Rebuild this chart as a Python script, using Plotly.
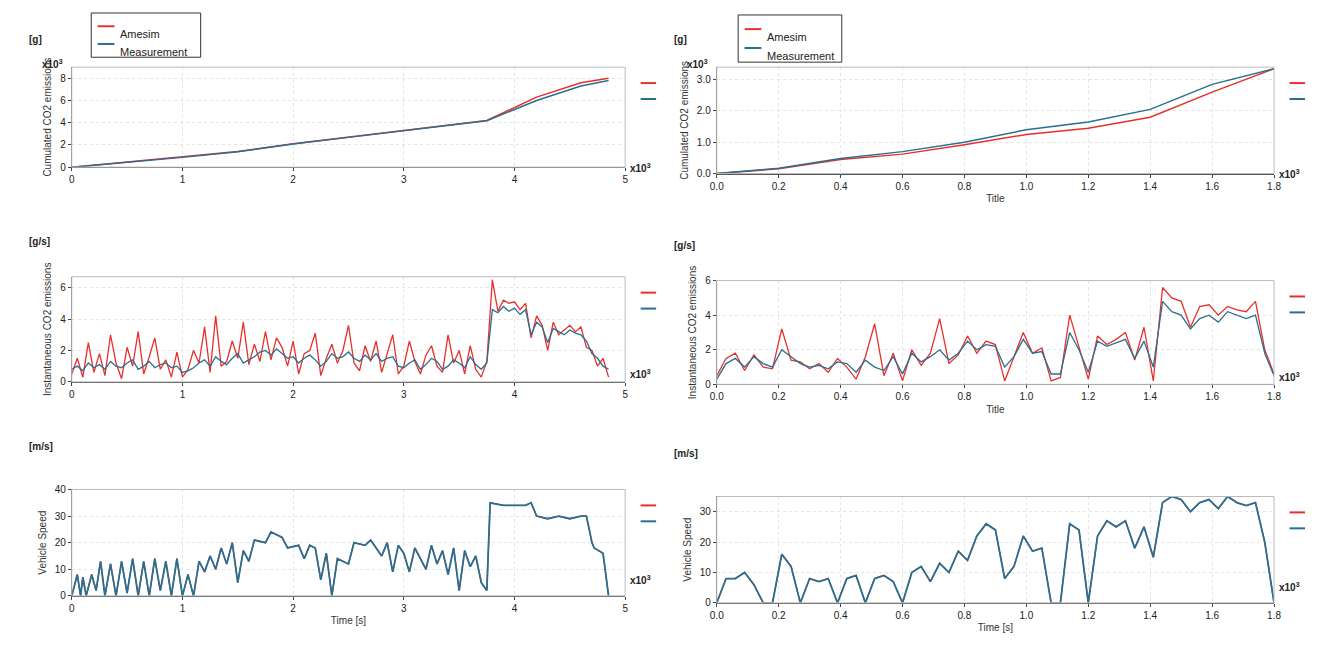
import numpy as np
import plotly.graph_objects as go

RED = "#e8302a"; BLUE = "#2a6f8f"
# ---------- data ----------
cumL_t = [0, 0.5, 1.0, 1.5, 2.0, 2.5, 3.0, 3.5, 3.75, 4.2, 4.6, 4.85]
cumL_am = [0, 0.45, 0.9, 1.4, 2.1, 2.7, 3.3, 3.9, 4.2, 6.3, 7.6, 8.0]
cumL_me = [0, 0.42, 0.88, 1.38, 2.08, 2.68, 3.28, 3.88, 4.18, 6.0, 7.3, 7.8]

instL_me = [0.8,1.0,0.7,1.2,0.9,1.1,0.8,1.3,1.0,0.9,1.2,1.4,0.8,1.0,1.3,0.9,1.1,1.2,0.9,1.0,
            0.6,0.7,0.9,1.2,1.4,1.0,1.6,1.3,1.1,1.5,1.8,1.2,1.4,1.6,1.9,2.0,1.7,2.1,1.8,1.5,
            1.6,1.2,1.5,1.7,1.4,1.0,1.3,1.8,1.5,1.6,1.9,1.5,1.3,1.7,1.4,1.8,1.3,1.5,1.6,1.0,
            0.9,1.2,1.4,0.8,1.1,1.5,1.3,0.8,1.0,1.4,1.2,0.9,1.6,1.1,0.8,1.2,4.6,4.4,4.8,4.5,
            4.7,4.3,4.6,3.0,3.8,3.5,2.5,3.4,3.2,3.0,3.3,3.1,3.0,2.6,1.8,1.5,1.0,0.8]
instL_am = [0.5,1.5,0.3,2.5,0.6,1.8,0.4,3.0,1.2,0.2,2.2,1.0,3.2,0.5,1.6,2.8,0.8,1.4,0.3,1.9,
            0.3,0.8,2.0,1.2,3.5,0.6,4.2,1.0,1.3,2.6,1.5,3.8,1.1,2.4,1.3,3.2,1.4,2.8,2.2,1.0,
            2.6,0.5,1.8,2.0,3.1,0.4,1.5,2.4,1.2,2.0,3.6,1.2,0.7,2.3,1.3,2.6,0.6,1.8,3.0,0.5,
            1.0,2.6,1.3,0.5,1.7,2.3,1.0,0.6,3.0,1.2,2.0,0.5,2.3,0.8,0.3,1.3,6.5,4.5,5.2,5.0,
            5.1,4.6,5.0,2.8,4.2,3.6,2.0,3.8,3.0,3.3,3.6,3.2,3.5,2.2,2.0,1.0,1.5,0.3]

spdL_t = [0,0.05,0.08,0.1,0.13,0.18,0.22,0.26,0.3,0.35,0.4,0.45,0.5,0.55,0.6,0.65,0.7,0.75,0.8,0.85,0.9,0.95,1.0,1.05,1.1,1.15,1.2,1.25,1.3,1.35,1.4,1.45,1.5,1.55,1.6,1.65,1.75,1.8,1.9,1.95,2.05,2.1,2.15,2.2,2.25,2.3,2.35,2.4,2.5,2.55,2.65,2.7,2.75,2.8,2.85,2.9,2.95,3.0,3.05,3.1,3.15,3.2,3.25,3.3,3.35,3.4,3.45,3.5,3.55,3.6,3.65,3.7,3.75,3.78,3.9,4.0,4.1,4.15,4.2,4.3,4.4,4.5,4.6,4.65,4.7,4.72,4.8,4.85]
spdL_v = [0,8,0,7,0,8,2,13,0,12,0,13,1,14,0,13,0,14,2,13,0,14,0,8,0,13,9,15,10,18,12,20,5,17,13,21,20,24,22,18,19,14,19,18,6,16,0,14,12,20,19,21,18,15,20,9,19,16,9,18,14,10,19,12,17,8,18,2,17,11,15,5,2,35,34,34,34,35,30,29,30,29,30,30,20,18,16,0]

cumR_t = [0, 0.2, 0.4, 0.6, 0.8, 1.0, 1.2, 1.4, 1.6, 1.8]
cumR_am = [0, 0.15, 0.45, 0.62, 0.92, 1.25, 1.45, 1.8, 2.6, 3.35]
cumR_me = [0, 0.17, 0.48, 0.7, 1.0, 1.4, 1.65, 2.05, 2.85, 3.35]

instR_me = [0.3,1.2,1.5,1.0,1.6,1.2,1.0,2.0,1.6,1.2,1.0,1.1,0.9,1.3,1.2,0.7,1.4,1.0,0.8,1.6,0.6,1.8,1.3,1.6,2.0,1.4,1.8,2.5,2.0,2.3,2.2,1.0,1.6,2.6,1.8,1.9,0.6,0.6,3.0,2.0,0.7,2.5,2.2,2.4,2.6,1.5,2.5,1.0,4.8,4.2,4.0,3.2,3.8,4.0,3.6,4.2,4.0,3.8,4.0,1.8,0.5]
instR_am = [0.5,1.5,1.8,0.8,1.7,1.0,0.9,3.2,1.4,1.3,0.9,1.2,0.7,1.5,1.0,0.3,1.6,3.5,0.5,1.8,0.2,2.0,1.1,1.8,3.8,1.2,1.7,2.8,1.8,2.5,2.3,0.2,1.6,3.0,1.8,2.1,0.2,0.4,4.0,2.2,0.3,2.8,2.3,2.6,3.0,1.4,3.3,0.2,5.6,5.0,4.8,3.3,4.5,4.6,4.0,4.5,4.3,4.2,4.8,2.0,0.6]

spdR_v = [0,8,8,10,6,0,0,16,12,0,8,7,8,0,8,9,0,8,9,7,0,10,12,7,13,10,17,14,22,26,24,8,12,22,17,18,0,0,26,24,0,22,27,25,27,18,25,15,33,35,34,30,33,34,31,35,33,32,33,20,0]

fig = go.Figure()
def add(ax, x, y, color, w=1.3):
    fig.add_trace(go.Scatter(x=x, y=y, mode="lines", line=dict(color=color, width=w),
                             xaxis="x"+ax, yaxis="y"+ax, showlegend=False))

xL = np.linspace(0, 4.85, len(instL_me))
xR = np.linspace(0, 1.8, len(instR_me))
xRs = np.linspace(0, 1.8, len(spdR_v))
add("", cumL_t, cumL_am, RED, 1.5); add("", cumL_t, cumL_me, BLUE, 1.5)
add("2", cumR_t, cumR_am, RED, 1.5); add("2", cumR_t, cumR_me, BLUE, 1.5)
add("3", xL, instL_am, RED); add("3", xL, instL_me, BLUE)
add("4", xR, instR_am, RED); add("4", xR, instR_me, BLUE)
add("5", spdL_t, spdL_v, RED); add("5", spdL_t, spdL_v, BLUE, 1.8)
add("6", xRs, spdR_v, RED); add("6", xRs, spdR_v, BLUE, 1.8)

dL = [0.044, 0.473]; dR = [0.544, 0.976]
rows = {"": (dL, [0.758, 0.915]), "2": (dR, [0.748, 0.915]),
        "3": (dL, [0.421, 0.586]), "4": (dR, [0.417, 0.580]),
        "5": (dL, [0.085, 0.252]), "6": (dR, [0.074, 0.241])}
yconf = {"": ([0, 9], [0,2,4,6,8], "Cumulated CO2 emissions", "[g]"),
         "2": ([0, 3.4], [0,1,2,3], "Cumulated CO2 emissions", "[g]"),
         "3": ([0, 6.7], [0,2,4,6], "Instantaneous CO2 emissions", "[g/s]"),
         "4": ([0, 6], [0,2,4,6], "Instantaneous CO2 emissions", "[g/s]"),
         "5": ([0, 40], [0,10,20,30,40], "Vehicle Speed", "[m/s]"),
         "6": ([0, 35], [0,10,20,30], "Vehicle Speed", "[m/s]")}
xtitles = {"": "", "2": "Title", "3": "", "4": "Title", "5": "Time [s]", "6": "Time [s]"}
ann = []; shapes = []
for k, (dx, dy) in rows.items():
    left = dx is dL
    yr, yt, ytitle, unit = yconf[k]
    if left:
        xa = dict(range=[0, 5], tickvals=[0,1,2,3,4,5])
    else:
        xa = dict(range=[0, 1.8], tickvals=[i/5 for i in range(10)], ticktext=[f"{i/5:.1f}" for i in range(10)])
    yt_text = [f"{v:.1f}" for v in yt] if k == "2" else [str(v) for v in yt]
    fig.layout["xaxis"+k] = dict(domain=dx, anchor="y"+k, showgrid=True, gridcolor="#e4e4e4",
        griddash="dot", zeroline=False, showline=True, linecolor="#555", ticks="outside",
        ticklen=3, tickfont=dict(size=10, color="#222", family="Arial"),
        title=dict(text=xtitles[k], font=dict(size=10, color="#333"), standoff=4), **xa)
    fig.layout["yaxis"+k] = dict(domain=dy, anchor="x"+k, range=yr, tickvals=yt, ticktext=yt_text,
        showgrid=True, gridcolor="#e4e4e4", griddash="dot", zeroline=False, showline=True,
        linecolor="#555", ticks="outside", ticklen=3, tickfont=dict(size=10, color="#222", family="Arial"),
        title=dict(text=ytitle, font=dict(size=10, color="#333"), standoff=6))
    shapes.append(dict(type="rect", xref="paper", yref="paper", x0=dx[0], x1=dx[1], y0=dy[0], y1=dy[1],
                       line=dict(color="#bbb", width=1)))
    ann.append(dict(text="<b>"+unit+"</b>", xref="paper", yref="paper", x=dx[0]-0.035, y=dy[1]+0.055,
                    showarrow=False, xanchor="left", font=dict(size=10, color="#222")))
    if k in ("", "2"):
        ann.append(dict(text="<b>x10<sup>3</sup></b>", xref="paper", yref="paper", x=dx[0]-0.025, y=dy[1]+0.018,
                        showarrow=False, xanchor="left", font=dict(size=10, color="#222")))
    ann.append(dict(text="<b>x10<sup>3</sup></b>", xref="paper", yref="paper", x=dx[1]+0.002, y=dy[0]+0.012,
                    showarrow=False, xanchor="left", font=dict(size=10, color="#222")))
    for i, c in enumerate([RED, BLUE]):
        yy = dy[1] - 0.025 - i*0.025
        shapes.append(dict(type="line", xref="paper", yref="paper", x0=dx[1]+0.012, x1=dx[1]+0.024,
                           y0=yy, y1=yy, line=dict(color=c, width=2)))

# legends
for (x0, x1, y0, y1) in [(78/1320, 190/1320, 1-45/648, 1.0), (740/1320, 846/1320, 1-50/648, 1-2/648)]:
    shapes.append(dict(type="rect", xref="paper", yref="paper", x0=x0, x1=x1, y0=y0, y1=y1,
                       line=dict(color="#333", width=1), fillcolor="white"))
    for i, (c, t) in enumerate([(RED, "Amesim"), (BLUE, "Measurement")]):
        yy = y1 - (y1 - y0) * (0.3 + 0.4*i)
        shapes.append(dict(type="line", xref="paper", yref="paper", x0=x0+0.005, x1=x0+0.018,
                           y0=yy, y1=yy, line=dict(color=c, width=2)))
        ann.append(dict(text=t, xref="paper", yref="paper", x=x0+0.021, y=yy, xanchor="left",
                        showarrow=False, font=dict(size=11, color="#222")))

fig.update_layout(autosize=True, margin=dict(l=0, r=0, t=0, b=0),
                  plot_bgcolor="white", paper_bgcolor="white", shapes=shapes, annotations=ann,
                  font=dict(family="Arial", size=10))
fig.write_html("out.html", config={"responsive": True}, default_width="100%", default_height="100vh")
